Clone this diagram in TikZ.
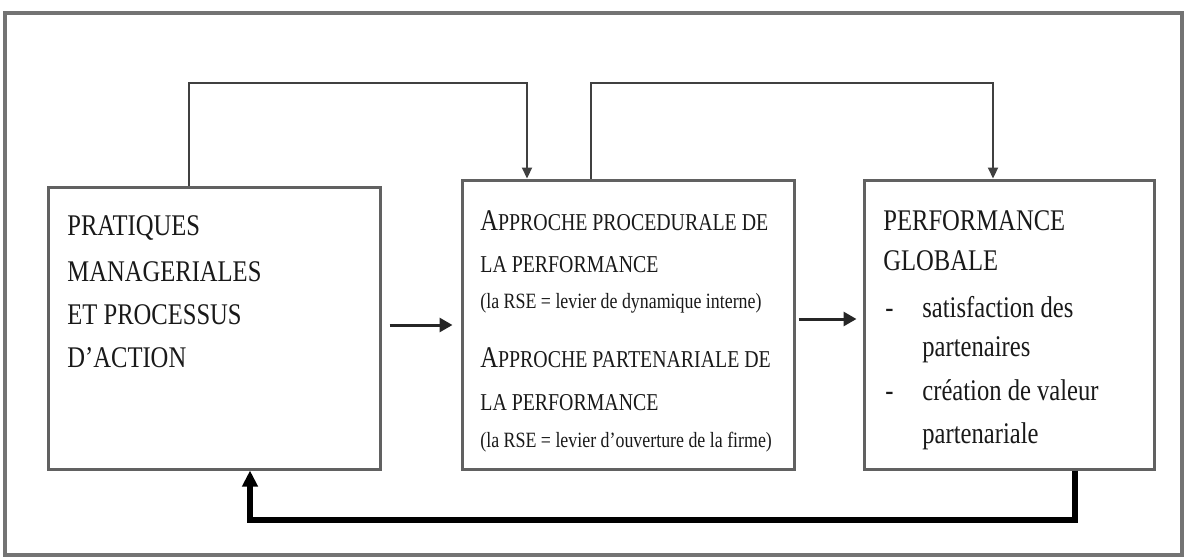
\documentclass[tikz,border=0pt]{standalone}
\usepackage{fontspec}
\setmainfont[FakeStretch=0.82]{Liberation Serif}
\usetikzlibrary{arrows.meta}
\tikzset{
  boite/.style={draw=black!62, line width=1.5pt, inner sep=0pt},
  texte/.style={anchor=base west, inner sep=0pt, text=black!90, font=\fontsize{15}{18}\selectfont},
  petit/.style={texte, font=\fontsize{10.9}{12}\selectfont},
  fleche/.style={draw=black!75, line width=1.1pt, -{Triangle[length=5.5pt,width=5pt]}},
  flechem/.style={draw=black!85, line width=1.5pt, -{Triangle[length=6.5pt,width=7pt]}},
  retour/.style={line width=3pt, -{Triangle[length=8pt,width=7.5pt]}}
}
\newcommand{\pc}[1]{{\fontsize{12.1}{14}\selectfont #1}}
\begin{document}
\begin{tikzpicture}[x=0.5pt,y=-0.5pt]
\useasboundingbox (0,0) rectangle (1184,558);
\draw[draw=black!55, line width=1.6pt] (5,13) rectangle (1182,555);
\draw[draw=black!55, line width=2.2pt] (5,13) -- (1182,13);

\node[boite, minimum width=166pt, minimum height=141pt] (pratiques) at (214,328) {};
\node[boite, minimum width=166pt, minimum height=144.5pt] (approche) at (628,324.5) {};
\node[boite, minimum width=145pt, minimum height=144.5pt] (globale) at (1009,324.5) {};

\node[texte] (l1) at (67,235) {PRATIQUES};
\node[texte] (l2) at (67,281) {MANAGERIALES};
\node[texte] (l3) at (67,324) {ET PROCESSUS};
\node[texte] (l4) at (67,367) {D’ACTION};

\node[texte] (m1) at (480,230) {A\pc{PPROCHE PROCEDURALE DE}};
\node[texte] (m2) at (480,272) {\pc{LA PERFORMANCE}};
\node[petit] (m3) at (480,308) {(la RSE = levier de dynamique interne)};
\node[texte] (m4) at (480,367) {A\pc{PPROCHE PARTENARIALE DE}};
\node[texte] (m5) at (480,410) {\pc{LA PERFORMANCE}};
\node[petit] (m6) at (480,447) {(la RSE = levier d’ouverture de la firme)};

\node[texte] (r1) at (883,230) {PERFORMANCE};
\node[texte] (r2) at (883,270) {GLOBALE};
\node[texte] (r3) at (885,317) {-};
\node[texte] (r4) at (922,317) {satisfaction des};
\node[texte] (r5) at (922,356) {partenaires};
\node[texte] (r6) at (885,400) {-};
\node[texte] (r7) at (922,400) {création de valeur};
\node[texte] (r8) at (922,443) {partenariale};

\coordinate (h1) at (189,83);
\coordinate (h2) at (527,83);
\coordinate (h3) at (591,83);
\coordinate (h4) at (993,83);
\coordinate (a1) at (420,325);
\coordinate (a2) at (830,319);
\coordinate (b1) at (1075,520);
\coordinate (b2) at (250,520);

\draw[fleche] (pratiques.north -| h1) -- (h1) -- (h2) -- (approche.north -| h2);
\draw[fleche] (approche.north -| h3) -- (h3) -- (h4) -- (globale.north -| h4);
\draw[flechem, shorten <=4pt, shorten >=4pt] (pratiques.east |- a1) -- (approche.west |- a1);
\draw[flechem, shorten <=1.5pt, shorten >=3pt] (approche.east |- a2) -- (globale.west |- a2);
\draw[retour] (globale.south -| b1) -- (b1) -- (b2) -- (pratiques.south -| b2);
\end{tikzpicture}
\end{document}
